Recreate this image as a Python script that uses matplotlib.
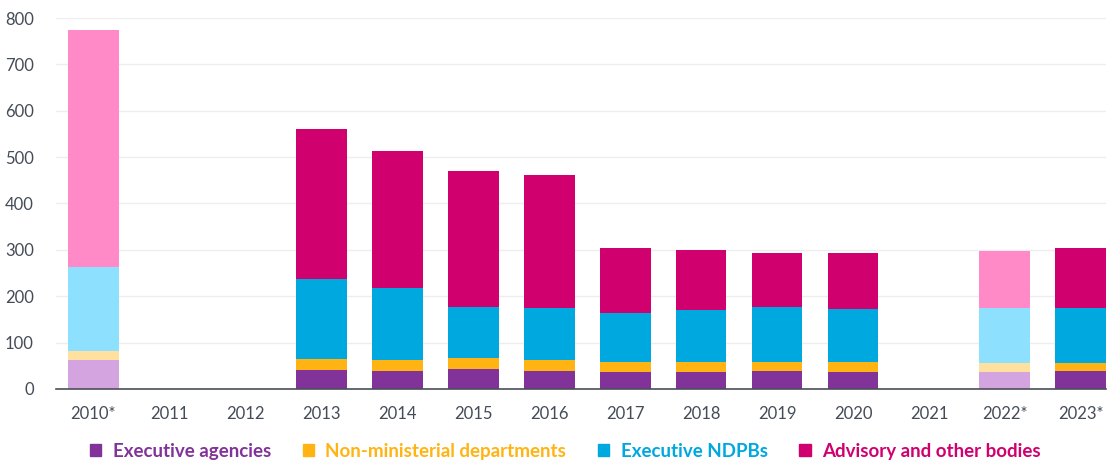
import numpy as np
import matplotlib
matplotlib.use("Agg")
import matplotlib.pyplot as plt
from matplotlib.patches import Patch

plt.rcParams['font.family'] = ['Lato', 'DejaVu Sans']

#Data (nan = no data for that year)
years = ['2010*', '2011', '2012', '2013', '2014', '2015', '2016', '2017',
         '2018', '2019', '2020', '2021', '2022*', '2023*']
estimated = ['2010*', '2022*']
nan = np.nan
exec_agencies = [62, nan, nan, 41, 39, 42, 39, 36, 36, 38, 37, nan, 36, 39]
non_ministerial = [20, nan, nan, 23, 23, 24, 23, 21, 21, 21, 20, nan, 20, 17]
executive_ndpbs = [180, nan, nan, 174, 155, 110, 112, 106, 114, 117, 115, nan, 118, 118]
advisory_other = [512, nan, nan, 322, 297, 294, 288, 140, 129, 118, 122, nan, 123, 131]

series = [
    ("Executive agencies", exec_agencies, "#823399", "#D4A4E0"),
    ("Non-ministerial departments", non_ministerial, "#FFB414", "#FFE09E"),
    ("Executive NDPBs", executive_ndpbs, "#00A8E0", "#8DE1FF"),
    ("Advisory and other bodies", advisory_other, "#D0006F", "#FF8AC7"),
]

fig = plt.figure(figsize=(11.13, 4.63), dpi=100)
ax = fig.add_axes([0.0503, 0.160, 0.9434, 0.801])

x = np.arange(len(years))
bottom = np.zeros(len(years))
for name, vals, col, light in series:
    vals = np.nan_to_num(np.array(vals, dtype=float))
    colors = [light if y in estimated else col for y in years]
    ax.bar(x, vals, width=0.67, bottom=bottom, color=colors, zorder=3)
    bottom += vals

ax.set_xlim(-0.49, 13.33)
ax.set_ylim(0, 800)
ax.set_yticks(range(0, 801, 100))
ax.set_xticks(x)
ax.set_xticklabels(years)
ax.grid(axis='y', color='#EEEEEE', linewidth=1, zorder=0)
for s in ['top', 'right', 'left']:
    ax.spines[s].set_visible(False)
ax.spines['bottom'].set_color('#4A4F57')
ax.spines['bottom'].set_linewidth(1.2)
ax.spines['bottom'].set_zorder(4)
ax.tick_params(axis='both', length=0, labelsize=12, labelcolor='#444C57')
ax.tick_params(axis='x', pad=12)
ax.tick_params(axis='y', pad=16)

handles = [Patch(color=col, label=name) for name, vals, col, light in series]
leg = fig.legend(handles=handles, loc='center', bbox_to_anchor=(0.508, 0.025),
                 ncol=4, frameon=False, handlelength=0.6, handleheight=0.6,
                 handletextpad=0.6, columnspacing=1.7,
                 prop={'size': 13.5, 'weight': 'bold'})
for txt, (name, vals, col, light) in zip(leg.get_texts(), series):
    txt.set_color(col)

fig.savefig("out.png", dpi=100)
